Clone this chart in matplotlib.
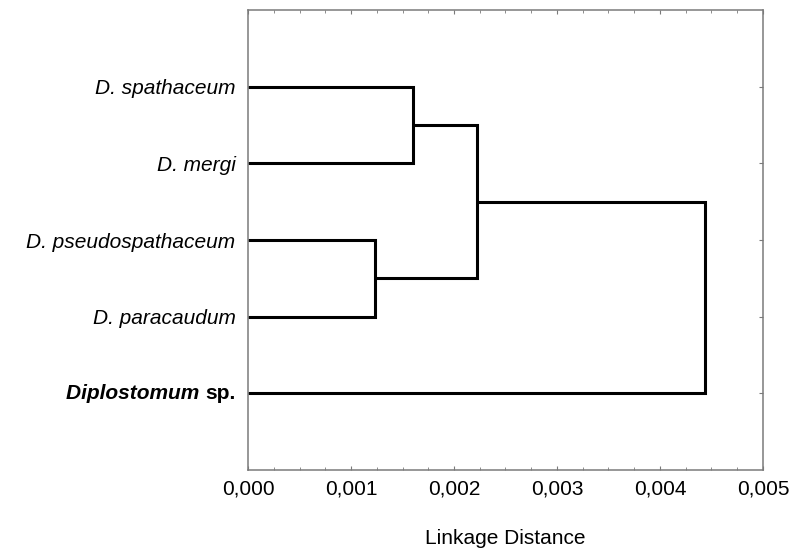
import matplotlib.pyplot as plt
from matplotlib.ticker import MultipleLocator, FuncFormatter

plt.rcParams['font.family'] = ['Liberation Sans', 'DejaVu Sans']

# leaves from top to bottom
leaves = ['D. spathaceum', 'D. mergi', 'D. pseudospathaceum', 'D. paracaudum', 'Diplostomum sp.']
# merges: (left member, right member, linkage distance)
merge_a = ('D. spathaceum', 'D. mergi', 0.00160)
merge_b = ('D. pseudospathaceum', 'D. paracaudum', 0.00123)
merge_ab = 0.00222
merge_root = 0.00444

fig = plt.figure(figsize=(7.97, 5.57), dpi=100)
ax = fig.add_axes([0.3112, 0.1562, 0.6461, 0.8258])

pos = {name: i + 1 for i, name in enumerate(leaves)}
kw = dict(color='black', lw=2.2, solid_joinstyle='miter', solid_capstyle='butt')

def link(y1, x1, y2, x2, h):
    ax.plot([x1, h, h, x2], [y1, y1, y2, y2], **kw)
    return (y1 + y2) / 2

ya = link(pos[merge_a[0]], 0, pos[merge_a[1]], 0, merge_a[2])
yb = link(pos[merge_b[0]], 0, pos[merge_b[1]], 0, merge_b[2])
yab = link(ya, merge_a[2], yb, merge_b[2], merge_ab)
link(yab, merge_ab, pos['Diplostomum sp.'], 0, merge_root)

ax.set_xlim(0, 0.005)
ax.set_ylim(6, 0)
ax.xaxis.set_major_locator(MultipleLocator(0.001))
ax.xaxis.set_minor_locator(MultipleLocator(0.00025))
ax.xaxis.set_major_formatter(FuncFormatter(lambda v, p: f"{v:.3f}".replace('.', ',')))
ax.set_yticks(list(pos.values()))
ax.set_yticklabels([n if n != 'Diplostomum sp.' else '' for n in leaves],
                   fontstyle='italic')

grey = '#7a7a7a'
for s in ax.spines.values():
    s.set_color(grey)
    s.set_linewidth(1.1)
ax.tick_params(axis='both', which='both', direction='in', color=grey,
               top=True, right=True, labelsize=15)
ax.tick_params(axis='x', which='major', length=3, pad=7)
ax.tick_params(axis='x', which='minor', length=2)
ax.tick_params(axis='y', length=3, pad=9)

# bold label, genus part in italic
sp = ax.annotate('sp.', xy=(0, pos['Diplostomum sp.']), xycoords=('axes fraction', 'data'),
                 xytext=(-9, 0), textcoords='offset points',
                 ha='right', va='center', fontsize=15, fontweight='bold')
ax.annotate('Diplostomum ', xy=(0, 0.5), xycoords=sp, ha='right', va='center',
            fontsize=15, fontweight='bold', fontstyle='italic')

ax.set_xlabel('Linkage Distance', fontsize=15, labelpad=22)

fig.savefig('out.png', dpi=100)
